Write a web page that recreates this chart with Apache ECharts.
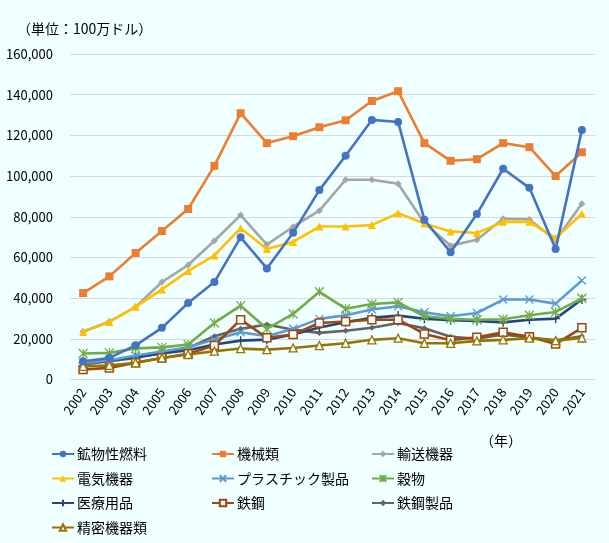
<!DOCTYPE html>
<html><head><meta charset="utf-8">
<script src="https://cdn.jsdelivr.net/npm/echarts@6/dist/echarts.min.js"></script>
<style>html,body{margin:0;padding:0;background:#F0FFFF;}#c{width:609px;height:543px;}</style>
</head><body><div id="c"></div>
<script>
const years = ['2002','2003','2004','2005','2006','2007','2008','2009','2010','2011','2012','2013','2014','2015','2016','2017','2018','2019','2020','2021'];
const mineralFuel = [9000,10600,16800,25400,37600,47900,69900,54600,72100,93100,110000,127600,126600,78500,62500,81300,103600,94200,64100,122700];
const machinery = [42500,50700,62200,73000,83800,105000,130900,116200,119600,124000,127400,136900,141700,116200,107500,108300,116200,114200,100000,111700];
const transport = [23600,28500,35700,47900,56300,68200,80800,66300,75100,83000,98200,98200,96200,76900,65800,68700,79000,78700,68400,86400];
const electrical = [23400,28300,35700,44300,53300,61000,74400,64100,67600,75200,75200,75900,81800,76700,72800,72000,77500,77500,69500,81500];
const plastics = [8000,9500,11800,13800,15800,19600,23200,21300,24900,29800,31600,34400,36000,33000,31100,32700,39300,39300,37300,48700];
const grain = [12800,13100,15300,15800,17200,27800,36300,24900,32200,43100,34800,37100,37900,31100,29800,29400,29600,31600,33200,39900];
const medical = [8200,9300,11100,12800,14400,17200,19100,19600,22100,25600,28100,30300,31400,29900,29100,28800,28100,29400,29900,39300];
const steel = [4900,5700,8200,10600,12600,16700,29400,20500,22100,27800,28500,29400,29400,22400,19300,20800,23200,21000,17500,25400];
const steelProducts = [7400,9000,10600,13100,15500,21300,24900,27000,24500,22900,24000,25400,27800,25200,21000,20000,22100,20600,19300,21300];
const precision = [6500,6900,8200,10600,12300,13900,15200,14700,15500,16700,17800,19500,20300,17800,17800,19000,19500,20300,19100,20400];
const yTicks = [0,20000,40000,60000,80000,100000,120000,140000,160000];
const names = ['鉱物性燃料','機械類','輸送機器','電気機器','プラスチック製品','穀物','医療用品','鉄鋼','鉄鋼製品','精密機器類'];

const BG = '#F0FFFF';
const FONT = '"Noto Sans CJK JP", "Noto Sans", sans-serif';
const xPath = 'path://M0,0L10,10M10,0L0,10';
const starPath = 'path://M0,0L10,10M10,0L0,10M5,0L5,10';
const plusPath = 'path://M5,0L5,10M0,5L10,5';

function mk(name, data, color, symbol, size, opts) {
  opts = opts || {};
  return {
    name: name, type: 'line', data: data, symbol: symbol, symbolSize: size,
    showAllSymbol: true,
    lineStyle: { color: color, width: 2.6 },
    itemStyle: { color: opts.fill || color, borderColor: color, borderWidth: opts.bw || 0 },
    emphasis: { disabled: true },
    z: opts.z || 2
  };
}

const series = [
  mk(names[0], mineralFuel, '#4472C4', 'circle', 8, {z: 10}),
  mk(names[1], machinery, '#ED7D31', 'rect', 8, {z: 9}),
  mk(names[2], transport, '#A5A5A5', 'diamond', 7, {z: 7}),
  mk(names[3], electrical, '#FFC000', 'triangle', 8, {z: 8}),
  mk(names[4], plastics, '#5B9BD5', xPath, 8, {bw: 1.4, z: 3}),
  mk(names[5], grain, '#70AD47', starPath, 9, {bw: 1.3, z: 4}),
  mk(names[6], medical, '#264478', plusPath, 9, {bw: 1.4, z: 2}),
  mk(names[7], steel, '#9E480E', 'rect', 8, {fill: BG, bw: 1.5, z: 5}),
  mk(names[8], steelProducts, '#636363', 'diamond', 6, {z: 1}),
  mk(names[9], precision, '#997300', 'triangle', 8, {fill: BG, bw: 1.3, z: 6})
];

function legendCol(left, data) {
  return {
    orient: 'vertical', left: left, top: 446, padding: 0, height: 100,
    itemWidth: 22, itemHeight: 8, itemGap: 8.5,
    data: data, selectedMode: false,
    textStyle: { fontFamily: FONT, fontSize: 14, lineHeight: 16, color: '#000', padding: [0,0,0,-2] }
  };
}

const chart = echarts.init(document.getElementById('c'), null, { renderer: 'canvas' });
chart.setOption({
  backgroundColor: BG,
  animation: false,
  grid: { left: 70, right: 14, top: 54, bottom: 163.5 },
  title: {
    text: '（単位：100万ドル）', left: 12, top: 17,
    textStyle: { fontFamily: FONT, fontSize: 14, fontWeight: 'normal', color: '#000' }
  },
  graphic: [{
    type: 'text', left: 480, top: 434,
    style: { text: '（年）', font: '14px ' + FONT, fill: '#000' }
  }],
  legend: [
    legendCol(51, [names[0], names[3], names[6], names[9]]),
    legendCol(211, [names[1], names[4], names[7]]),
    legendCol(371, [names[2], names[5], names[8]])
  ],
  xAxis: {
    type: 'category', data: years, boundaryGap: true,
    axisLine: { lineStyle: { color: '#D9D9D9', width: 1 } },
    axisTick: { show: false },
    axisLabel: { rotate: 55, margin: 10, interval: 0, color: '#000', fontSize: 13, fontFamily: FONT }
  },
  yAxis: {
    type: 'value', min: yTicks[0], max: yTicks[yTicks.length - 1], interval: 20000,
    axisLine: { show: false }, axisTick: { show: false },
    splitLine: { lineStyle: { color: '#D9D9D9', width: 1 } },
    axisLabel: {
      margin: 17, color: '#000', fontSize: 13, fontFamily: FONT,
      formatter: v => v.toLocaleString('en-US')
    }
  },
  series: series
});
</script></body></html>
